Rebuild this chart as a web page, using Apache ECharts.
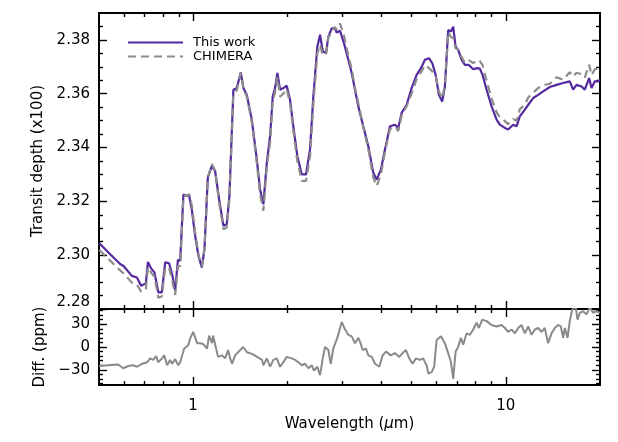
<!DOCTYPE html>
<html>
<head>
<meta charset="utf-8">
<script src="https://cdn.jsdelivr.net/npm/echarts@6.0.0/dist/echarts.min.js"></script>
<style>
html,body{margin:0;padding:0;background:#fff;}
#chart{width:618px;height:442px;}
</style>
</head>
<body>
<div id="chart"></div>
<script>
// ---- data ----
const wavelength = [0.501,0.536,0.584,0.599,0.637,0.661,0.682,0.706,0.717,0.734,
0.752,0.774,0.794,0.814,0.838,0.859,0.876,0.894,0.909,0.931,
0.948,0.971,0.990,1.015,1.040,1.066,1.087,1.114,1.147,1.176,
1.211,1.250,1.281,1.306,1.345,1.379,1.395,1.420,1.448,1.484,
1.540,1.598,1.637,1.677,1.720,1.762,1.797,1.828,1.859,1.897,
1.943,1.992,2.041,2.091,2.154,2.225,2.296,2.365,2.423,2.495,
2.546,2.597,2.661,2.706,2.775,2.843,2.878,2.949,3.036,3.135,
3.214,3.293,3.374,3.500,3.632,3.767,3.863,3.987,4.106,4.260,
4.419,4.528,4.643,4.816,4.996,5.185,5.352,5.511,5.675,5.815,
5.963,6.109,6.258,6.384,6.541,6.673,6.786,6.907,7.040,7.220,
7.396,7.617,7.864,8.080,8.259,8.424,8.678,9.003,9.340,9.568,
9.926,10.17,10.55,10.82,11.08,11.50,11.79,12.23,12.68,13.16,
13.82,14.52,15.25,16.01,16.41,16.83,17.46,17.88,18.46,18.79,
19.25,19.72,20.0];

const thisWork = [2.3044,2.3010,2.2967,2.2960,2.2923,2.2917,2.2886,2.2896,2.2975,2.2951,
2.2936,2.2862,2.2862,2.2973,2.2970,2.2923,2.2868,2.2983,2.2979,2.3226,
2.3220,2.3222,2.3170,2.3072,2.2997,2.2954,2.3022,2.3288,2.3331,2.3312,
2.3207,2.3109,2.3115,2.3220,2.3615,2.3621,2.3615,2.3679,2.3621,2.3596,
2.3504,2.3356,2.3244,2.3189,2.3343,2.3442,2.3590,2.3621,2.3677,2.3615,
2.3621,2.3630,2.3578,2.3479,2.3368,2.3300,2.3300,2.3393,2.3590,2.3775,
2.3819,2.3757,2.3751,2.3812,2.3843,2.3843,2.3827,2.3834,2.3788,2.3726,
2.3677,2.3615,2.3553,2.3479,2.3405,2.3306,2.3281,2.3319,2.3393,2.3479,
2.3485,2.3473,2.3529,2.3559,2.3621,2.3670,2.3695,2.3726,2.3732,2.3714,
2.3670,2.3596,2.3571,2.3627,2.3837,2.3831,2.3849,2.3775,2.3763,2.3726,
2.3707,2.3707,2.3691,2.3695,2.3693,2.3670,2.3615,2.3553,2.3504,2.3485,
2.3473,2.3467,2.3485,2.3479,2.3516,2.3541,2.3559,2.3584,2.3596,2.3609,
2.3625,2.3633,2.3640,2.3646,2.3615,2.3633,2.3627,2.3615,2.3658,2.3621,
2.3646,2.3646,2.3652];

const chimera = [2.3019,2.2986,2.2944,2.2932,2.2898,2.2891,2.2864,2.2875,2.2955,2.2935,
2.2921,2.2842,2.2847,2.2953,2.2952,2.2901,2.2852,2.2959,2.2959,2.3221,
2.3220,2.3227,2.3186,2.3084,2.3002,2.2959,2.3024,2.3286,2.3339,2.3315,
2.3195,2.3096,2.3103,2.3210,2.3600,2.3613,2.3608,2.3676,2.3621,2.3589,
2.3495,2.3343,2.3227,2.3165,2.3328,2.3416,2.3572,2.3605,2.3662,2.3589,
2.3601,2.3617,2.3564,2.3463,2.3349,2.3276,2.3276,2.3368,2.3560,2.3749,
2.3782,2.3742,2.3749,2.3808,2.3831,2.3848,2.3837,2.3861,2.3816,2.3742,
2.3691,2.3620,2.3565,2.3475,2.3394,2.3288,2.3257,2.3301,2.3385,2.3469,
2.3477,2.3461,2.3520,2.3554,2.3601,2.3655,2.3679,2.3706,2.3696,2.3683,
2.3665,2.3608,2.3583,2.3632,2.3829,2.3811,2.3807,2.3769,2.3763,2.3736,
2.3715,2.3724,2.3714,2.3725,2.3721,2.3706,2.3649,2.3582,2.3531,2.3513,
2.3498,2.3487,2.3506,2.3499,2.3543,2.3559,2.3586,2.3604,2.3621,2.3631,
2.3637,2.3661,2.3652,2.3680,2.3664,2.3678,2.3673,2.3660,2.3708,2.3669,
2.3691,2.3693,2.3697];

const diffWavelength = [0.500,0.535,0.576,0.598,0.620,0.643,0.662,0.687,0.713,0.729,
0.745,0.762,0.773,0.796,0.808,0.826,0.844,0.857,0.876,0.896,
0.909,0.922,0.936,0.964,0.978,1.000,1.030,1.053,1.076,1.108,
1.125,1.150,1.158,1.184,1.202,1.238,1.265,1.294,1.313,1.332,
1.362,1.392,1.444,1.488,1.543,1.602,1.661,1.677,1.720,1.762,
1.805,1.851,1.897,1.943,1.992,2.067,2.118,2.170,2.225,2.280,
2.336,2.394,2.435,2.495,2.546,2.597,2.641,2.706,2.754,2.807,
2.891,2.987,3.060,3.135,3.214,3.293,3.374,3.416,3.485,3.570,
3.632,3.724,3.815,3.938,4.037,4.138,4.282,4.419,4.562,4.677,
4.791,4.910,5.033,5.157,5.311,5.443,5.511,5.581,5.650,5.719,
5.790,5.900,6.005,6.199,6.384,6.541,6.673,6.786,6.907,7.040,
7.181,7.304,7.489,7.674,7.864,8.060,8.200,8.400,8.680,9.000,
9.340,9.690,9.930,10.17,10.43,10.69,10.95,11.22,11.50,11.79,
12.08,12.38,12.68,13.00,13.32,13.65,14.00,14.34,14.70,14.99,
15.25,15.44,15.75,16.01,16.29,16.70,16.95,17.24,17.66,18.11,
18.55,19.01,19.49,20.0];

const diffPpm = [-25,-24,-23,-28,-25,-24,-26,-22,-20,-15,
-17,-12,-20,-15,-11,-24,-17,-22,-16,-24,
-20,-22,-2,2,11,20,5,5,4,-2,
15,5,15,-2,-13,-11,-15,-4,-15,-22,
-11,-7,0,-7,-9,-13,-17,-24,-15,-26,
-17,-15,-26,-20,-13,-15,-17,-20,-24,-22,
-28,-24,-31,-26,-37,-15,0,-4,-22,-2,
12,33,23,16,14,5,12,7,-4,-2,
-11,-13,-22,-26,-11,-6,-11,-8,-13,-8,
-4,-15,-22,-15,-17,-15,-20,-24,-35,-37,
-33,-26,9,14,5,-8,-20,-42,-6,0,
12,3,18,16,23,32,25,36,34,29,
27,29,25,20,23,18,25,29,18,27,
16,23,25,20,25,5,18,25,29,27,
12,25,12,34,49,54,36,45,47,43,
52,45,47,45];

const xMajorTicks = [1, 10];
const xMinorTicks = [0.6, 0.7, 0.8, 0.9, 2, 3, 4, 5, 6, 7, 8, 9];
const depthTicks = [2.28, 2.30, 2.32, 2.34, 2.36, 2.38];
const depthMinorTicks = [2.285, 2.29, 2.295, 2.305, 2.31, 2.315, 2.325, 2.33, 2.335, 2.345, 2.35, 2.355, 2.365, 2.37, 2.375, 2.385];
const diffTicks = [-30, 0, 30];
const diffMinorTicks = [-48, -42, -36, -24, -18, -12, -6, 6, 12, 18, 24, 36, 42, 48];

// ---- chart ----
const FONT = 'DejaVu Sans';
const AXC = '#000';

function xAx(grid, pos, ticks, len, labels, extra) {
  return Object.assign({
    type: 'log', logBase: 10, gridIndex: grid, position: pos, min: 0.5, max: 20,
    axisLine: { show: true, onZero: false, lineStyle: { color: AXC, width: 1.8 } },
    axisTick: { show: true, inside: true, length: len, customValues: ticks, lineStyle: { color: AXC, width: 1.4 } },
    axisLabel: labels ? { show: true, customValues: ticks, color: '#000', fontFamily: FONT, fontSize: 15, margin: 14,
      formatter: v => String(Math.round(v)) } : { show: false },
    splitLine: { show: false }, minorTick: { show: false }, minorSplitLine: { show: false }
  }, extra || {});
}
function yAx(grid, pos, min, max, ticks, len, labelFmt, extra) {
  return Object.assign({
    type: 'value', gridIndex: grid, position: pos, min: min, max: max,
    axisLine: { show: true, onZero: false, lineStyle: { color: AXC, width: 1.8 } },
    axisTick: { show: true, inside: true, length: len, customValues: ticks, lineStyle: { color: AXC, width: 1.4 } },
    axisLabel: labelFmt ? { show: true, customValues: ticks, color: '#000', fontFamily: FONT, fontSize: 15, margin: 9,
      formatter: labelFmt, rich: { up: { fontFamily: FONT, fontSize: 15, color: '#000', padding: [0, 0, 14, 0] } } } : { show: false },
    splitLine: { show: false }, minorTick: { show: false }, minorSplitLine: { show: false }
  }, extra || {});
}

const nameStyle = { color: '#000', fontFamily: FONT, fontSize: 15 };

const option = {
  animation: false,
  backgroundColor: '#fff',
  grid: [
    { left: 99, top: 13, width: 501, height: 296 },
    { left: 99, top: 309, width: 501, height: 76 }
  ],
  legend: {
    data: ['This work', 'CHIMERA'],
    orient: 'vertical', left: 122, top: 31,
    itemWidth: 55, itemHeight: 14, itemGap: 1,
    itemStyle: { opacity: 0, color: 'transparent', borderWidth: 0 },
    textStyle: { fontFamily: FONT, fontSize: 13, color: '#000', padding: [0, 0, 0, 5] }
  },
  xAxis: [
    xAx(0, 'bottom', xMajorTicks, 8, false),
    xAx(0, 'bottom', xMinorTicks, 4, false),
    xAx(0, 'top', xMajorTicks, 8, false),
    xAx(0, 'top', xMinorTicks, 4, false),
    xAx(1, 'bottom', xMajorTicks, 8, true, {
      name: 'Wavelength ({i|\u03bc}m)', nameLocation: 'middle', nameGap: 32,
      nameTextStyle: Object.assign({}, nameStyle, { rich: { i: { fontFamily: FONT, fontSize: 15, fontStyle: 'italic', color: '#000' } } })
    }),
    xAx(1, 'bottom', xMinorTicks, 4, false),
    xAx(1, 'top', xMajorTicks, 8, false),
    xAx(1, 'top', xMinorTicks, 4, false)
  ],
  yAxis: [
    yAx(0, 'left', 2.28, 2.39, depthTicks, 8, v => {
      const s = v.toFixed(2);
      return Math.abs(v - 2.28) < 1e-6 ? '{up|' + s + '}' : s;
    }, { name: 'Transit depth (x100)', nameLocation: 'middle', nameGap: 46, nameTextStyle: nameStyle }),
    yAx(0, 'left', 2.28, 2.39, depthMinorTicks, 4, null),
    yAx(0, 'right', 2.28, 2.39, depthTicks, 8, null),
    yAx(0, 'right', 2.28, 2.39, depthMinorTicks, 4, null),
    yAx(1, 'left', -50, 50, diffTicks, 8, v => (v < 0 ? '\u2212' + Math.abs(v) : String(v)),
      { name: 'Diff. (ppm)', nameLocation: 'middle', nameGap: 46, nameTextStyle: nameStyle }),
    yAx(1, 'left', -50, 50, diffMinorTicks, 4, null),
    yAx(1, 'right', -50, 50, diffTicks, 8, null),
    yAx(1, 'right', -50, 50, diffMinorTicks, 4, null)
  ],
  series: [
    {
      name: 'This work', type: 'line', xAxisIndex: 0, yAxisIndex: 0,
      data: wavelength.map((w, i) => [w, thisWork[i]]),
      symbol: 'none', showSymbol: false, z: 2,
      itemStyle: { color: '#55299f' },
      lineStyle: { color: '#55299f', width: 2.2 }
    },
    {
      name: 'CHIMERA', type: 'line', xAxisIndex: 0, yAxisIndex: 0,
      data: wavelength.map((w, i) => [w, chimera[i]]),
      symbol: 'none', showSymbol: false, z: 3,
      itemStyle: { color: '#8c8c8c' },
      lineStyle: { color: '#8c8c8c', width: 2.2, type: [8, 5] }
    },
    {
      name: 'Diff', type: 'line', xAxisIndex: 4, yAxisIndex: 4,
      data: diffWavelength.map((w, i) => [w, diffPpm[i]]),
      symbol: 'none', showSymbol: false, clip: true,
      itemStyle: { color: '#8a8a8a' },
      lineStyle: { color: '#8a8a8a', width: 2 }
    }
  ]
};

const chart = echarts.init(document.getElementById('chart'), null, { renderer: 'canvas' });
chart.setOption(option);
</script>
</body>
</html>
